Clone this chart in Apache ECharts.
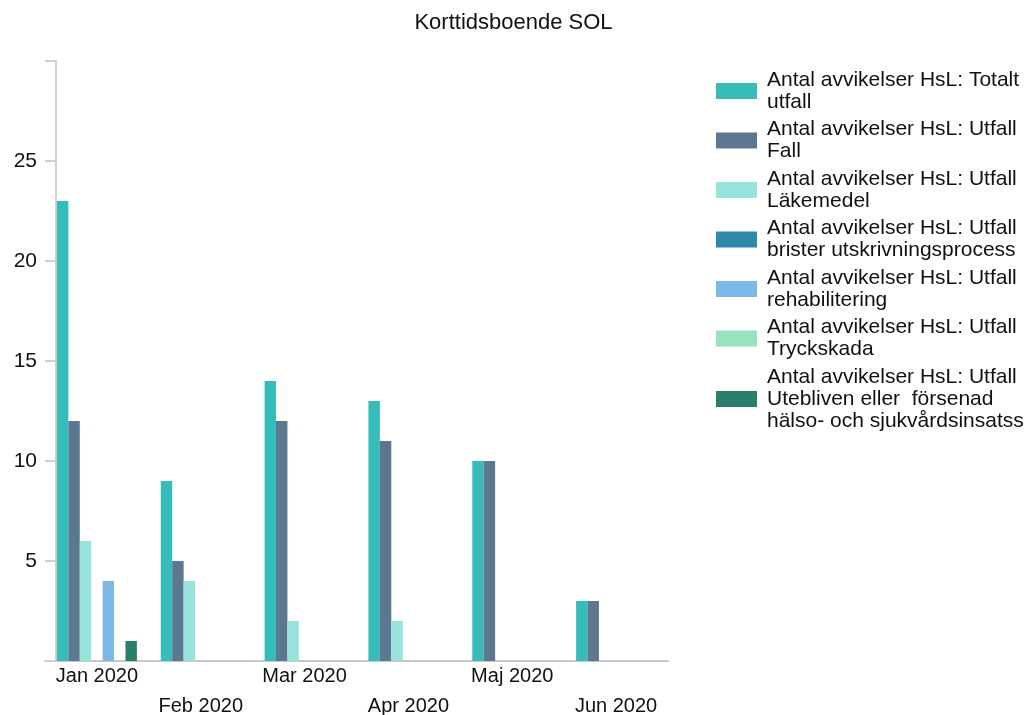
<!DOCTYPE html>
<html>
<head>
<meta charset="utf-8">
<script src="https://cdn.jsdelivr.net/npm/echarts@6/dist/echarts.min.js"></script>
<style>
  html, body { margin: 0; padding: 0; background: #fff; }
  #chart { width: 1027px; height: 715px; }
</style>
</head>
<body>
<div id="chart"></div>
<script>
// månader
const months = ['Jan 2020', 'Feb 2020', 'Mar 2020', 'Apr 2020', 'Maj 2020', 'Jun 2020']

// serienamn (med radbrytningar som i förlagan)
const seriesNames = [
  'Antal avvikelser HsL: Totalt\nutfall',
  'Antal avvikelser HsL: Utfall\nFall',
  'Antal avvikelser HsL: Utfall\nLäkemedel',
  'Antal avvikelser HsL: Utfall\nbrister utskrivningsprocess',
  'Antal avvikelser HsL: Utfall\nrehabilitering',
  'Antal avvikelser HsL: Utfall\nTryckskada',
  'Antal avvikelser HsL: Utfall\nUtebliven eller  försenad\nhälso- och sjukvårdsinsatss'
]

// värden per serie
const totalt = [23, 9, 14, 13, 10, 3]
const fall = [12, 5, 12, 11, 10, 3]
const lakemedel = [6, 4, 2, 2, 0, 0]
const utskrivning = [0, 0, 0, 0, 0, 0]
const rehab = [4, 0, 0, 0, 0, 0]
const tryckskada = [0, 0, 0, 0, 0, 0]
const utebliven = [1, 0, 0, 0, 0, 0]

const colors = ['#36bdb9', '#5b7890', '#98e3dc', '#2e89ab', '#7db9e8', '#98e3bd', '#2a7f6a']
const allData = [totalt, fall, lakemedel, utskrivning, rehab, tryckskada, utebliven]

const chart = echarts.init(document.getElementById('chart'))
const font = 'Liberation Sans, Arial, sans-serif'

chart.setOption({
  animation: false,
  color: colors,
  title: {
    text: 'Korttidsboende SOL',
    left: 'center',
    top: 12,
    padding: 0,
    textStyle: { fontFamily: font, fontSize: 22, fontWeight: 'normal', color: '#111' }
  },
  legend: {
    orient: 'vertical',
    left: 716,
    top: 69,
    padding: 0,
    itemWidth: 41,
    itemHeight: 16,
    itemGap: 5.5,
    icon: 'rect',
    data: seriesNames,
    textStyle: { fontFamily: font, fontSize: 21, lineHeight: 22, color: '#111', padding: [0, 0, 0, 5] }
  },
  grid: { left: 45, right: 359, top: 61, bottom: 54, outerBoundsMode: 'none' },
  xAxis: {
    type: 'category',
    data: months,
    axisLine: { lineStyle: { color: '#c8c8c8', width: 2 } },
    axisTick: { show: false },
    axisLabel: {
      interval: 0,
      margin: 0,
      fontFamily: font,
      fontSize: 20,
      lineHeight: 30,
      color: '#111',
      formatter: (v, i) => (i % 2 ? '\n' + v : v)
    }
  },
  yAxis: {
    type: 'value',
    min: 0,
    max: 30,
    interval: 5,
    offset: -11,
    axisLine: { show: true, lineStyle: { color: '#d0d0d0', width: 2 } },
    axisTick: { show: true, length: 11, lineStyle: { color: '#d0d0d0', width: 2 } },
    splitLine: { show: false },
    axisLabel: {
      margin: 19,
      fontFamily: font,
      fontSize: 21,
      color: '#111',
      formatter: v => (v === 0 || v === 30 ? '' : v)
    }
  },
  series: seriesNames.map((name, i) => ({
    name: name,
    type: 'bar',
    data: allData[i],
    barGap: 0,
    barCategoryGap: '23%'
  }))
})
</script>
</body>
</html>
